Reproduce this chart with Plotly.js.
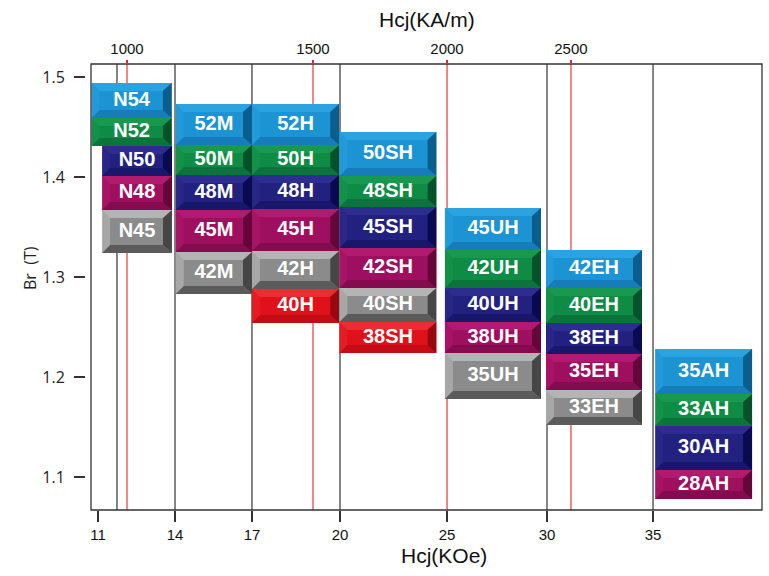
<!DOCTYPE html>
<html>
<head>
<meta charset="utf-8">
<script src="https://cdn.plot.ly/plotly-3.0.1.min.js"></script>
<style>
  html, body { margin: 0; padding: 0; background: #ffffff; }
  #chart { width: 769px; height: 576px; }
</style>
</head>
<body>
<div id="chart"></div>
<script>
// NdFeB magnet grades: remanence Br (T) band against intrinsic coercivity Hcj (kOe) band

const grade = [
  'N54', 'N52', 'N50', 'N48', 'N45',
  '52M', '50M', '48M', '45M', '42M',
  '52H', '50H', '48H', '45H', '42H', '40H',
  '50SH', '48SH', '45SH', '42SH', '40SH', '38SH',
  '45UH', '42UH', '40UH', '38UH', '35UH',
  '42EH', '40EH', '38EH', '35EH', '33EH',
  '35AH', '33AH', '30AH', '28AH'
];
const family = [
  'N', 'N', 'N', 'N', 'N',
  'M', 'M', 'M', 'M', 'M',
  'H', 'H', 'H', 'H', 'H', 'H',
  'SH', 'SH', 'SH', 'SH', 'SH', 'SH',
  'UH', 'UH', 'UH', 'UH', 'UH',
  'EH', 'EH', 'EH', 'EH', 'EH',
  'AH', 'AH', 'AH', 'AH'
];
// Hcj band of each grade (kOe)
const hcjFrom = [
  10.75, 10.75, 11.16, 11.16, 11.16,
  14.03, 14.03, 14.03, 14.03, 14.03,
  17.0, 17.0, 17.0, 17.0, 17.0, 17.0,
  19.98, 19.98, 19.98, 19.98, 19.98, 19.98,
  24.9, 24.9, 24.9, 24.9, 24.9,
  29.95, 29.95, 29.95, 29.95, 29.95,
  35.1, 35.1, 35.1, 35.1
];
const hcjTo = [
  13.87, 13.87, 13.88, 13.88, 13.88,
  17.0, 17.0, 17.0, 17.0, 17.0,
  19.97, 19.97, 19.97, 19.97, 19.97, 19.97,
  24.5, 24.5, 24.5, 24.5, 24.5, 24.5,
  29.7, 29.7, 29.7, 29.7, 29.7,
  34.48, 34.48, 34.48, 34.48, 34.48,
  39.67, 39.67, 39.67, 39.67
];
// Br band of each grade (T)
const brTop = [
  1.494, 1.459, 1.431, 1.401, 1.367,
  1.473, 1.432, 1.402, 1.367, 1.325,
  1.473, 1.432, 1.402, 1.368, 1.326, 1.288,
  1.445, 1.401, 1.370, 1.329, 1.289, 1.255,
  1.369, 1.327, 1.289, 1.255, 1.224,
  1.327, 1.289, 1.254, 1.223, 1.187,
  1.228, 1.183, 1.151, 1.107
];
const brBottom = [
  1.459, 1.431, 1.401, 1.367, 1.324,
  1.432, 1.402, 1.367, 1.325, 1.283,
  1.432, 1.402, 1.368, 1.326, 1.288, 1.254,
  1.401, 1.370, 1.329, 1.289, 1.255, 1.224,
  1.327, 1.289, 1.255, 1.224, 1.178,
  1.289, 1.254, 1.223, 1.187, 1.152,
  1.183, 1.151, 1.107, 1.078
];

// Axis ticks
const hcjTicks = [11, 14, 17, 20, 25, 30, 35];
const hcjTickText = ['11', '14', '17', '20', '25', '30', '35'];
const brTicks = [1.1, 1.2, 1.3, 1.4, 1.5];
const brTickText = ['1.1', '1.2', '1.3', '1.4', '1.5'];
const kamTickText = ['1000', '1500', '2000', '2500'];
const kamTickAtKoe = [12.13, 19.08, 25.0, 31.13];
const dividerKoe = [11.74, 14, 17, 20, 30, 35];

// ---- layout / scale settings ----
// The Hcj axis is drawn piecewise: each labelled kOe value sits at a fixed
// fraction of the axis length, linear in between.
const AXIS_STOPS = [0.0104, 0.1252, 0.2399, 0.3711, 0.5306, 0.6796, 0.8376];
function mapX(k) {
  const t = hcjTicks, s = AXIS_STOPS;
  let i = 0;
  if (k >= t[t.length - 1]) i = t.length - 2;
  else if (k > t[0]) { while (k > t[i + 1]) i++; }
  return s[i] + (k - t[i]) * (s[i + 1] - s[i]) / (t[i + 1] - t[i]);
}

const W = 769, H = 576;
const M = { l: 85, r: 7, t: 64, b: 66 };
const GAP = 6;                       // space between y ticks and the frame
const plotW = W - M.l - M.r - GAP;   // px width of the x axis
const plotH = H - M.t - M.b;         // px height of the y axis
const X_RANGE = [0, 1];
const Y_RANGE = [1.067, 1.513];
const pxX = (X_RANGE[1] - X_RANGE[0]) / plotW;
const pxY = (Y_RANGE[1] - Y_RANGE[0]) / plotH;

const BEVEL = { left: 8, right: 9, top: 8, bottom: 8 };

const PALETTE = [
  { face: '#1c93d3', top: '#2ba3e0', left: '#2299d9', right: '#0b5d8e', bottom: '#177dba' }, // blue
  { face: '#0e8c46', top: '#19994f', left: '#139149', right: '#05522a', bottom: '#0a743a' }, // green
  { face: '#22217f', top: '#2d2c8f', left: '#282785', right: '#0a0a50', bottom: '#181769' }, // navy
  { face: '#9f0f5f', top: '#b11a6d', left: '#a81465', right: '#640637', bottom: '#840b4e' }, // magenta
  { face: '#8b8b8b', top: '#b4b4b4', left: '#a7a7a7', right: '#464646', bottom: '#5b5b5b' }, // gray
  { face: '#df111b', top: '#eb2c31', left: '#e41d24', right: '#980810', bottom: '#c30c15' }  // red
];

const shapes = [];

// vertical divider lines (black) and kA/m reference lines (red)
dividerKoe.forEach(k => shapes.push({
  type: 'line', xref: 'x', yref: 'y domain', layer: 'below',
  x0: mapX(k), x1: mapX(k), y0: 0, y1: 1,
  line: { color: '#333333', width: 1.2 }
}));
kamTickAtKoe.forEach(k => shapes.push({
  type: 'line', xref: 'x', yref: 'y domain', layer: 'below',
  x0: mapX(k), x1: mapX(k), y0: 0, y1: 1,
  line: { color: '#e0262b', width: 1.1 }
}));

// bevelled grade blocks
function poly(pts) {
  return 'M' + pts.map(p => p[0] + ',' + p[1]).join(' L') + ' Z';
}
const rankInFamily = [];
grade.forEach((g, i) => {
  const r = (i > 0 && family[i - 1] === family[i]) ? rankInFamily[i - 1] + 1 : 0;
  rankInFamily.push(r);
  const c = PALETTE[r];
  const x0 = mapX(hcjFrom[i]), x1 = mapX(hcjTo[i]);
  const y0 = brBottom[i], y1 = brTop[i];
  const xi0 = x0 + BEVEL.left * pxX, xi1 = x1 - BEVEL.right * pxX;
  const yi0 = y0 + BEVEL.bottom * pxY, yi1 = y1 - BEVEL.top * pxY;
  const base = { type: 'path', xref: 'x', yref: 'y', layer: 'below', line: { width: 0 } };
  shapes.push(Object.assign({}, base, { path: poly([[x0, y0], [x1, y0], [x1, y1], [x0, y1]]), fillcolor: c.left }));
  shapes.push(Object.assign({}, base, { path: poly([[x0, y1], [x1, y1], [xi1, yi1], [xi0, yi1]]), fillcolor: c.top }));
  shapes.push(Object.assign({}, base, { path: poly([[x0, y0], [x1, y0], [xi1, yi0], [xi0, yi0]]), fillcolor: c.bottom }));
  shapes.push(Object.assign({}, base, { path: poly([[x1, y1], [x1, y0], [xi1, yi0], [xi1, yi1]]), fillcolor: c.right }));
  shapes.push(Object.assign({}, base, { path: poly([[xi0, yi0], [xi1, yi0], [xi1, yi1], [xi0, yi1]]), fillcolor: c.face }));
});

// plot frame
shapes.push({
  type: 'rect', xref: 'x domain', yref: 'y domain', layer: 'above',
  x0: 0, x1: 1, y0: 0, y1: 1,
  line: { color: '#333333', width: 1.3 }, fillcolor: 'rgba(0,0,0,0)'
});

const labelTrace = {
  type: 'scatter', mode: 'text',
  x: grade.map((g, i) => mapX((hcjFrom[i] + hcjTo[i]) / 2)),
  y: grade.map((g, i) => (brTop[i] + brBottom[i]) / 2),
  text: grade,
  textposition: 'middle center',
  textfont: { family: 'Liberation Sans, Arial, sans-serif', size: 20, color: '#ffffff', weight: 700 },
  hoverinfo: 'skip', showlegend: false, cliponaxis: false
};

const topTrace = {
  type: 'scatter', mode: 'none', xaxis: 'x2', yaxis: 'y',
  x: kamTickAtKoe.map(mapX), y: kamTickAtKoe.map(() => null),
  hoverinfo: 'skip', showlegend: false
};

const xDomain = [GAP / (W - M.l - M.r), 1];
const tickFont = { family: 'Liberation Sans, Arial, sans-serif', size: 15, color: '#111111' };
const titleFont = { family: 'Liberation Sans, Arial, sans-serif', size: 21, color: '#111111' };

const layout = {
  width: W, height: H,
  margin: M,
  paper_bgcolor: '#ffffff', plot_bgcolor: '#ffffff',
  showlegend: false,
  xaxis: {
    domain: xDomain, range: X_RANGE, anchor: 'y',
    tickmode: 'array', tickvals: hcjTicks.map(mapX), ticktext: hcjTickText,
    ticks: 'outside', ticklen: 11, tickwidth: 1.2, tickcolor: '#333333',
    showgrid: false, zeroline: false, showline: false,
    tickfont: tickFont
  },
  xaxis2: {
    visible: true,
    domain: xDomain, range: X_RANGE, overlaying: 'x', side: 'top', anchor: 'y',
    tickmode: 'array', tickvals: kamTickAtKoe.map(mapX), ticktext: kamTickText,
    ticks: 'outside', ticklen: 3, tickwidth: 1.1, tickcolor: '#e0262b',
    showgrid: false, zeroline: false, showline: false,
    tickfont: tickFont
  },
  yaxis: {
    range: Y_RANGE, anchor: 'free', position: 0,
    tickmode: 'array', tickvals: brTicks, ticktext: brTickText,
    ticks: 'outside', ticklen: 11, tickwidth: 1.2, tickcolor: '#333333',
    ticklabelstandoff: 6,
    showgrid: false, zeroline: false, showline: false,
    tickfont: { family: 'Open Sans, sans-serif', size: 16, color: '#222222' }
  },
  shapes: shapes,
  annotations: [
    { text: 'Hcj(KA/m)', xref: 'paper', yref: 'paper', x: 0.505, y: 1.0987,
      xanchor: 'center', yanchor: 'middle', showarrow: false, font: titleFont },
    { text: 'Hcj(KOe)', xref: 'paper', yref: 'paper', x: 0.530, y: -0.103,
      xanchor: 'center', yanchor: 'middle', showarrow: false, font: titleFont },
    { text: 'Br  (T)', xref: 'paper', yref: 'paper', x: -0.081, y: 0.543,
      xanchor: 'center', yanchor: 'middle', textangle: -90, showarrow: false,
      font: { family: 'Open Sans, sans-serif', size: 16, color: '#222222' } }
  ]
};

Plotly.newPlot('chart', [labelTrace, topTrace], layout, { staticPlot: true, displayModeBar: false });
</script>
</body>
</html>
